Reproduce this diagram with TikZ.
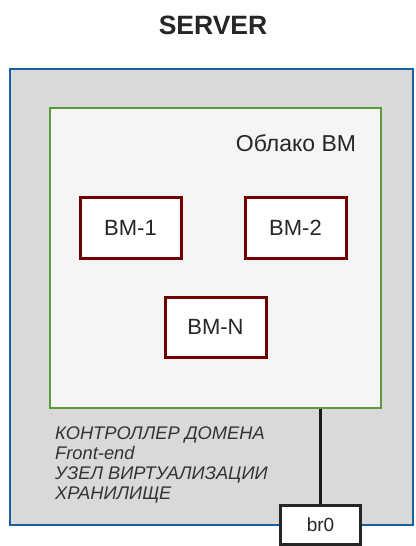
\documentclass[tikz,border=0pt]{standalone}
\usepackage{fontspec}
\setmainfont{Liberation Sans}
\definecolor{srvblue}{HTML}{1A5FA0}
\definecolor{srvgray}{HTML}{D9D9D9}
\definecolor{cloudgreen}{HTML}{5C9B3B}
\definecolor{cloudfill}{HTML}{F5F5F5}
\definecolor{vmred}{HTML}{6F0000}
\definecolor{txtgray}{HTML}{333333}
\tikzset{
  vmbox/.style={draw=vmred, line width=3pt, fill=white, minimum width=101pt, minimum height=61pt, inner sep=0pt, font=\fontsize{22}{26}\selectfont, text=black!85},
}
\begin{document}
\begin{tikzpicture}[x=1pt,y=-1pt]
\useasboundingbox (0,0) rectangle (415,546);
\node[font=\fontsize{26.5}{30}\selectfont\bfseries, text=black!85] (title) at (213,25) {SERVER};
\node[draw=srvblue, fill=srvgray, line width=2.8pt, minimum width=403pt, minimum height=456pt, inner sep=0pt] (server) at (211.5,297) {};
\node[draw=cloudgreen, fill=cloudfill, line width=2.8pt, minimum width=331pt, minimum height=300pt, inner sep=0pt] (cloud) at (215.5,258) {};
\node[font=\fontsize{23}{27}\selectfont, text=black!85] (cloudlbl) at (296,143) {Облако ВМ};
\node[vmbox] (vm1) at (130.5,227.5) {BM-1};
\node[vmbox] (vm2) at (295.5,227.5) {BM-2};
\node[vmbox, minimum height=60pt] (vmn) at (215.5,327) {BM-N};
\node[anchor=north west, inner sep=0pt, align=left, text=txtgray, font=\fontsize{18.3}{19.7}\selectfont\itshape] (roles) at (55,427) {КОНТРОЛЛЕР ДОМЕНА\\Front-end\\УЗЕЛ ВИРТУАЛИЗАЦИИ\\ХРАНИЛИЩЕ};
\node[draw=black!85, fill=white, line width=3pt, minimum width=80pt, minimum height=39pt, inner sep=0pt, font=\fontsize{19}{23}\selectfont, text=black!85] (br0) at (320.5,524.5) {br0};
\draw[black!90, line width=3pt] (br0.north |- cloud.south) -- (br0.north);
\end{tikzpicture}
\end{document}
